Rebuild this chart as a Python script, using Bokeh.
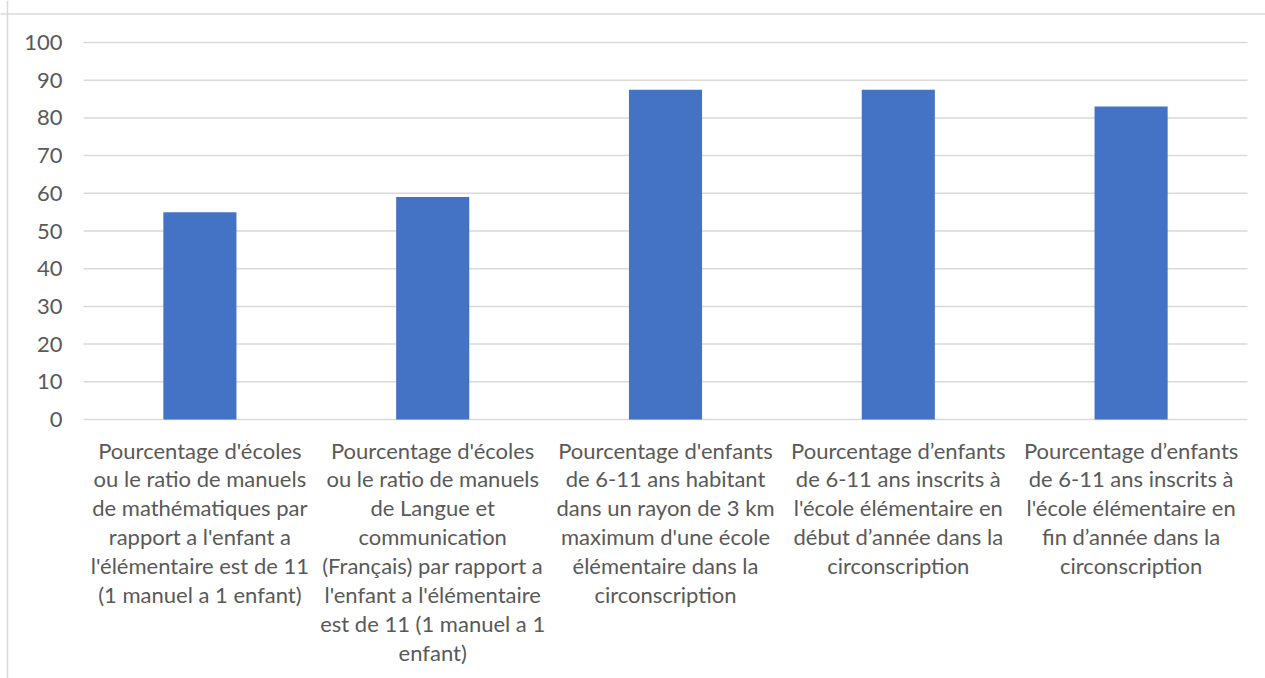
from bokeh.plotting import figure
from bokeh.models import Range1d, Span, ColumnDataSource
from bokeh.core.properties import value
from bokeh.embed import file_html
from bokeh.resources import INLINE

categories = [
    "Pourcentage d'écoles\nou le ratio de manuels\nde mathématiques par\nrapport a l'enfant a\nl'élémentaire est de 11\n(1 manuel a 1 enfant)",
    "Pourcentage d'écoles\nou le ratio de manuels\nde Langue et\ncommunication\n(Français) par rapport a\nl'enfant a l'élémentaire\nest de 11 (1 manuel a 1\nenfant)",
    "Pourcentage d'enfants\nde 6-11 ans habitant\ndans un rayon de 3 km\nmaximum d'une école\nélémentaire dans la\ncirconscription",
    "Pourcentage d’enfants\nde 6-11 ans inscrits à\nl'école élémentaire en\ndébut d’année dans la\ncirconscription",
    "Pourcentage d’enfants\nde 6-11 ans inscrits à\nl'école élémentaire en\nfin d’année dans la\ncirconscription",
]
values = [55, 59, 87.5, 87.5, 83]
y_ticks = [0, 10, 20, 30, 40, 50, 60, 70, 80, 90, 100]

FONT = "Lato"
TXT = "#595959"
GRID = "#d9d9d9"

W, H = 1265, 678
OFF = 0  # page offset of the figure
# plot area in page pixels: x 83..1247, y 42(=100)..419(=0)
px_per_x = (1247 - 83) / len(categories)
px_per_y = (419 - 42) / 100.0
x0 = -(83 - OFF) / px_per_x
x1 = x0 + W / px_per_x
y1 = 100 + (42 - OFF) / px_per_y
y0 = y1 - H / px_per_y

p = figure(width=W, height=H, x_range=Range1d(x0, x1), y_range=Range1d(y0, y1),
           output_backend="svg", toolbar_location=None,
           x_axis_location=None, y_axis_location=None, min_border=0)
p.xgrid.visible = False
p.ygrid.visible = False
p.outline_line_color = None
p.background_fill_color = "white"
p.border_fill_color = "white"

n = len(categories)
xs = [i + 0.5 for i in range(n)]

# gridlines
p.segment(x0=[0] * len(y_ticks), x1=[n] * len(y_ticks), y0=y_ticks, y1=y_ticks,
          line_color=GRID, line_width=1.5)

# bars
src = ColumnDataSource(dict(x=xs, top=values, label=categories))
p.vbar(x="x", top="top", bottom=0, width=0.314, source=src,
       fill_color="#4472C4", line_color=None)

# y tick labels
p.text(x=[-21 / px_per_x] * len(y_ticks), y=y_ticks, text=[str(t) for t in y_ticks],
       text_align="right", text_baseline="middle", text_font=value(FONT),
       text_font_size="22px", text_color=TXT)

# category labels
p.text(x="x", y=0, text="label", source=src, text_align="center",
       text_baseline="top", y_offset=17, text_font=value(FONT),
       text_font_size="22px", text_color=TXT, text_line_height=1.07)

# chart border (left and top)
p.add_layout(Span(location=(7 - OFF) / px_per_x + x0, dimension="height", line_color=GRID, line_width=1.5))
p.add_layout(Span(location=100 + (42 - 13.5) / px_per_y, dimension="width", line_color=GRID, line_width=1.5))

open("out.html", "w").write(file_html(p, INLINE))
